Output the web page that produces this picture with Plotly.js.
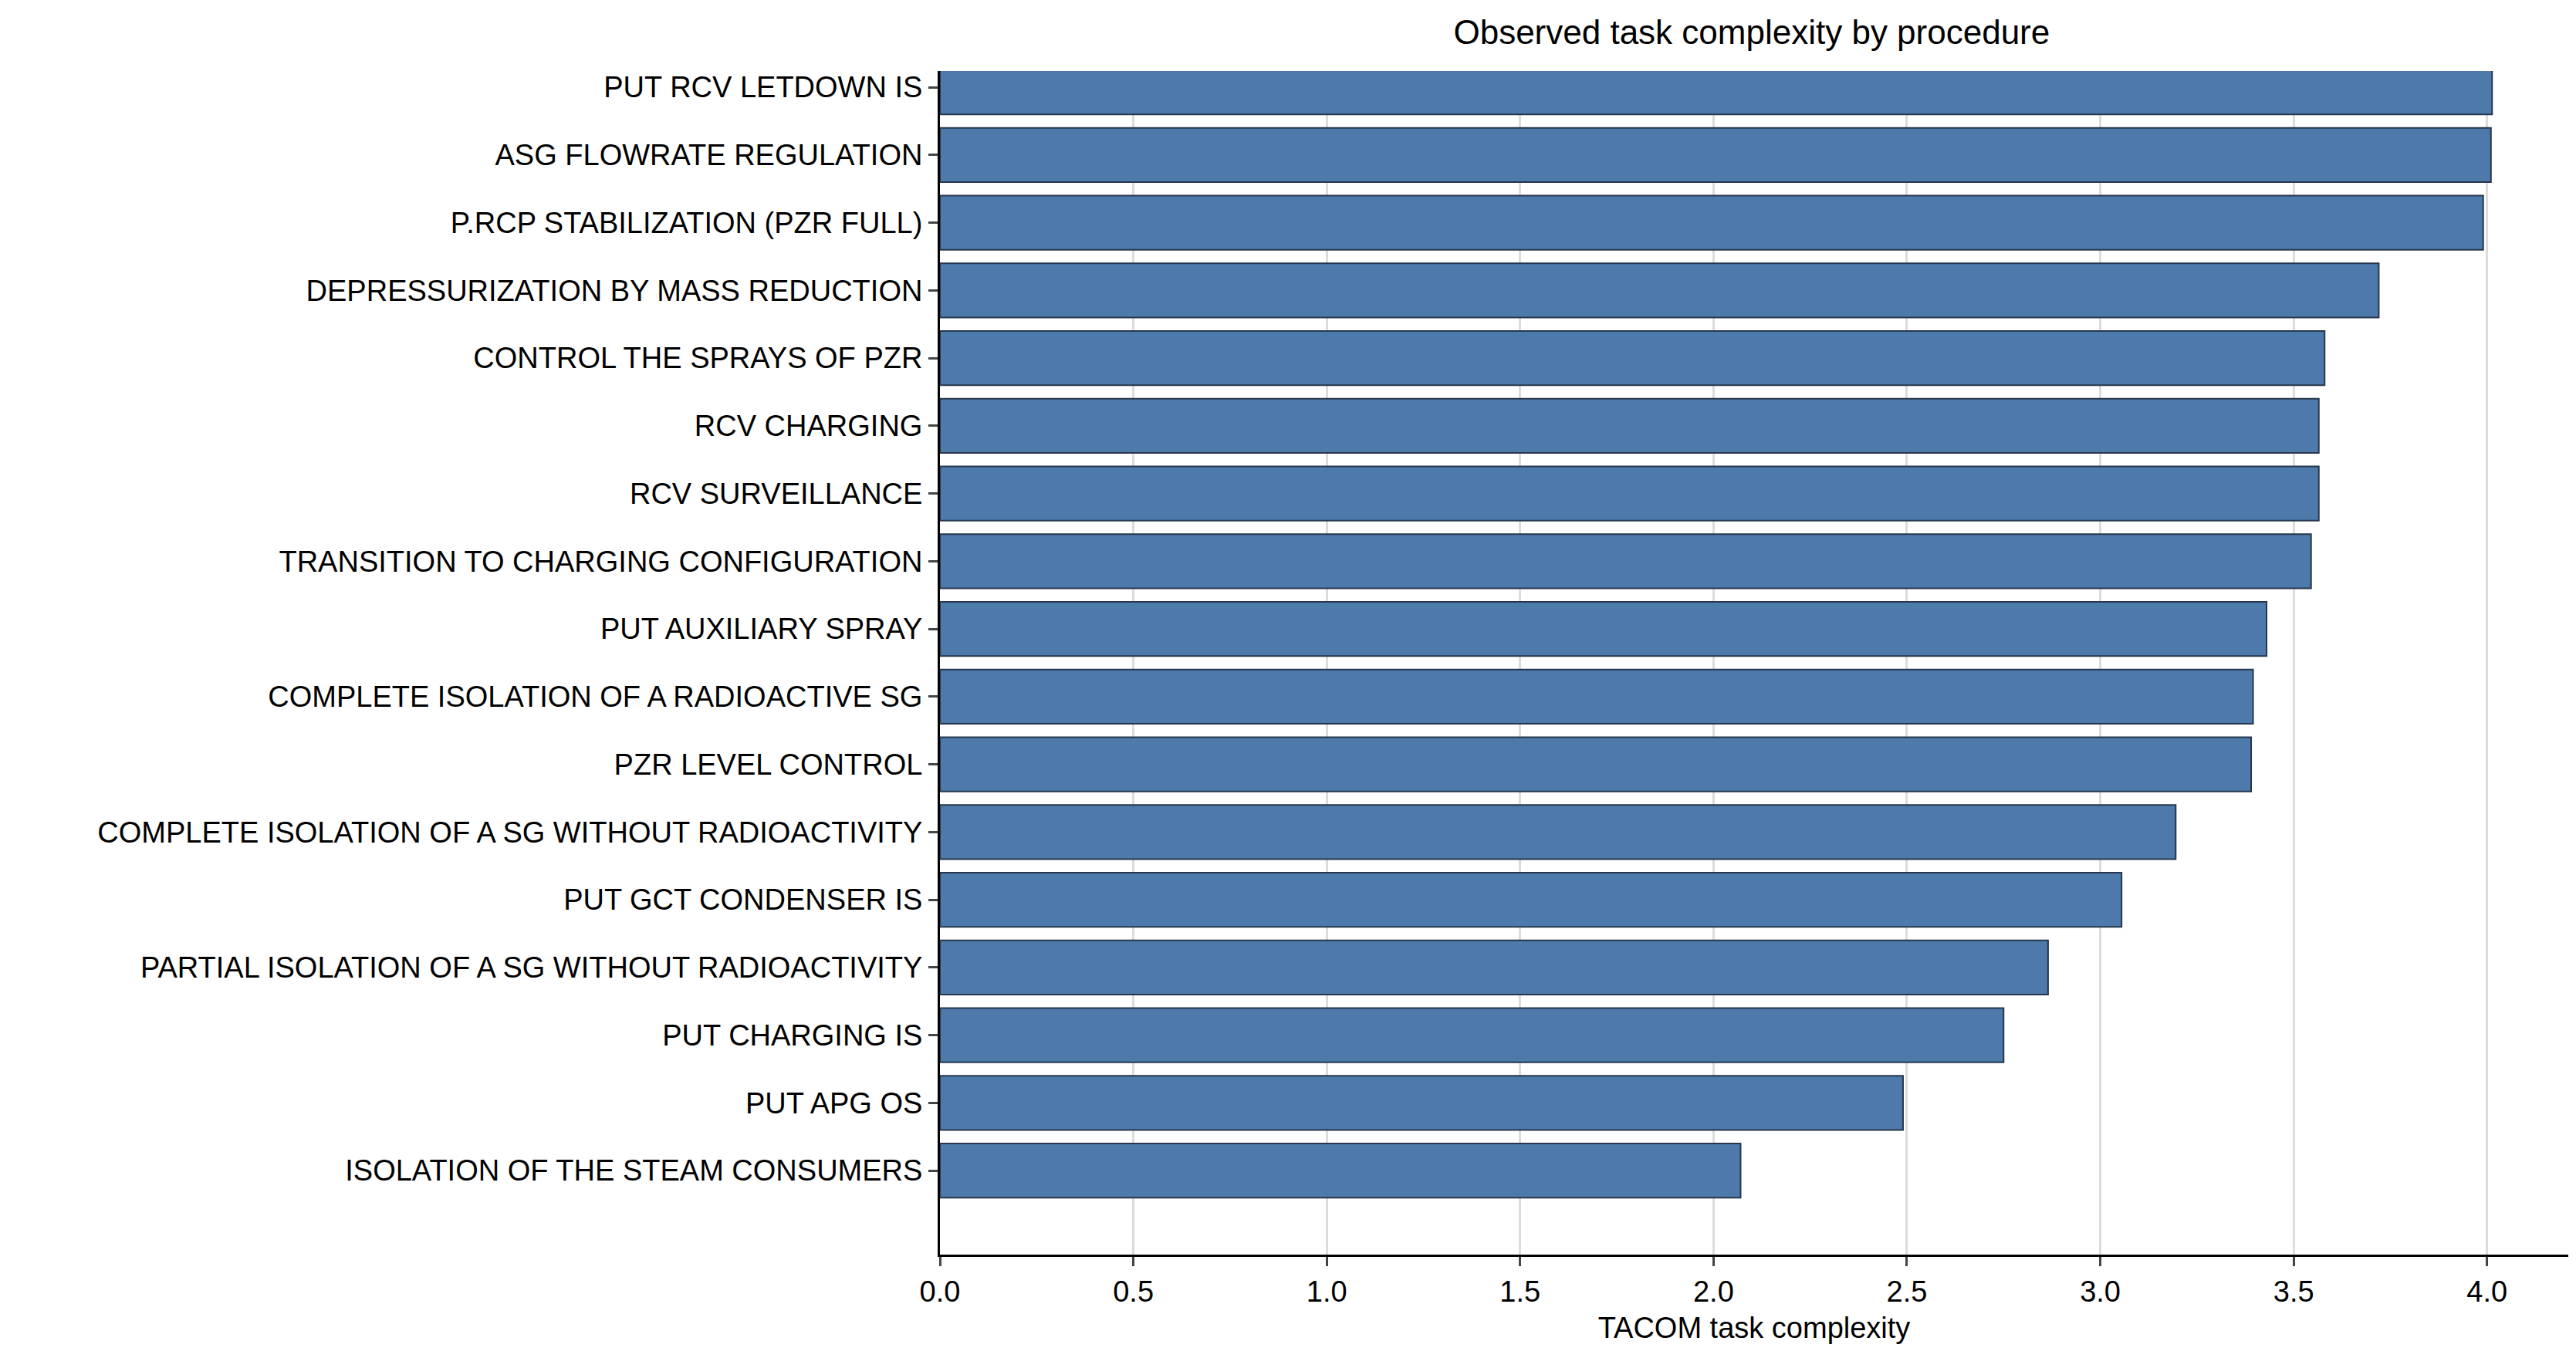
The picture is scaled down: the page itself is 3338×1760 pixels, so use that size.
<!DOCTYPE html>
<html><head><meta charset="utf-8">
<script src="https://cdn.plot.ly/plotly-3.0.1.min.js"></script>
<style>body{margin:0;background:#fff}#chart{width:3338px;height:1760px}</style>
</head><body><div id="chart"></div>
<script>
// procedures, top to bottom
const procedures = [
  'PUT RCV LETDOWN IS',
  'ASG FLOWRATE REGULATION',
  'P.RCP STABILIZATION (PZR FULL)',
  'DEPRESSURIZATION BY MASS REDUCTION',
  'CONTROL THE SPRAYS OF PZR',
  'RCV CHARGING',
  'RCV SURVEILLANCE',
  'TRANSITION TO CHARGING CONFIGURATION',
  'PUT AUXILIARY SPRAY',
  'COMPLETE ISOLATION OF A RADIOACTIVE SG',
  'PZR LEVEL CONTROL',
  'COMPLETE ISOLATION OF A SG WITHOUT RADIOACTIVITY',
  'PUT GCT CONDENSER IS',
  'PARTIAL ISOLATION OF A SG WITHOUT RADIOACTIVITY',
  'PUT CHARGING IS',
  'PUT APG OS',
  'ISOLATION OF THE STEAM CONSUMERS'
];
const complexity = [4.013, 4.01, 3.99, 3.72, 3.58, 3.565, 3.565, 3.545, 3.43, 3.395, 3.39, 3.195, 3.055, 2.865, 2.75, 2.49, 2.07];
const xTicks = [0, 0.5, 1.0, 1.5, 2.0, 2.5, 3.0, 3.5, 4.0];

const trace = {
  type: 'bar', orientation: 'h',
  x: complexity.slice().reverse(),
  y: procedures.slice().reverse(),
  width: 0.8,
  marker: {color: '#4e79ab', line: {color: '#26374d', width: 2}},
  hoverinfo: 'x+y'
};

const layout = {
  width: 3338, height: 1760,
  paper_bgcolor: '#fff', plot_bgcolor: '#fff',
  font: {family: 'Arial, Liberation Sans, sans-serif', color: '#000', size: 38},
  title: {text: 'Observed task complexity by procedure', x: 0.68, xanchor: 'center', y: 0.985, yanchor: 'top', font: {size: 44}},
  margin: {l: 1218, r: 10, t: 92, b: 134},
  bargap: 0.2,
  xaxis: {
    range: [0, 4.21], tickvals: xTicks, ticktext: xTicks.map(v => v.toFixed(1)),
    showgrid: true, gridcolor: '#dcdcdc', gridwidth: 3,
    showline: true, linecolor: '#000', linewidth: 3,
    ticks: 'outside', ticklen: 12, tickwidth: 3, zeroline: false,
    title: {text: 'TACOM task complexity', standoff: 14, font: {size: 38}}
  },
  yaxis: {
    type: 'category', range: [-1.24, 17.24 - 1],
    showline: true, linecolor: '#000', linewidth: 3,
    ticks: 'outside', ticklen: 12, tickwidth: 3, showgrid: false
  }
};
Plotly.newPlot('chart', [trace], layout, {staticPlot: true});
</script></body></html>
